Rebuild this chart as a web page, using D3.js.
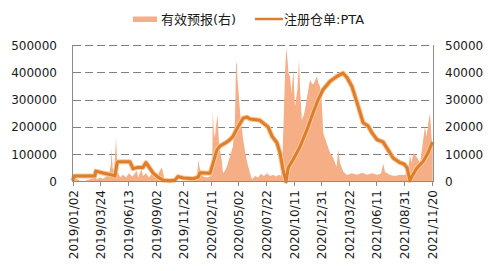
<!DOCTYPE html>
<meta charset="utf-8">
<script src="https://d3js.org/d3.v7.min.js"></script>
<style>
  body { margin: 0; background: #fff; }
  text { font-family: "DejaVu Sans", "Noto Sans CJK SC", sans-serif; fill: #1a1a1a; }
</style>
<div id="chart"></div>
<script>

// tick labels
var xTicks = ["2019/01/02","2019/03/24","2019/06/13","2019/09/02","2019/11/22","2020/02/11",
  "2020/05/02","2020/07/22","2020/10/11","2020/12/31","2021/03/22","2021/06/11","2021/08/31","2021/11/20"];
var leftTicks = [0, 100000, 200000, 300000, 400000, 500000];
var rightTicks = [0, 10000, 20000, 30000, 40000, 50000];

// 注册仓单:PTA (left axis)
var pta = [
  ["2019-01-02",3000],["2019-01-07",20000],["2019-03-08",20000],["2019-03-11",38000],["2019-04-01",31000],
  ["2019-04-27",24000],["2019-05-06",20000],["2019-05-12",68000],["2019-05-15",72000],["2019-06-19",72000],
  ["2019-06-28",47000],["2019-07-10",51000],["2019-07-27",51000],["2019-08-05",69000],["2019-08-26",31000],
  ["2019-09-09",16000],["2019-09-24",5000],["2019-10-14",3000],["2019-10-29",5000],["2019-11-07",18000],
  ["2019-11-22",13000],["2019-12-21",10000],["2020-01-05",16000],["2020-01-10",32000],["2020-02-09",30000],
  ["2020-02-18",68000],["2020-02-29",116000],["2020-03-09",130000],["2020-03-27",143000],["2020-04-07",153000],
  ["2020-04-16",165000],["2020-05-01",201000],["2020-05-16",232000],["2020-05-27",236000],["2020-06-05",229000],
  ["2020-07-04",224000],["2020-07-13",215000],["2020-07-28",200000],["2020-08-09",165000],["2020-08-23",142000],
  ["2020-09-01",105000],["2020-09-10",42000],["2020-09-19",0],["2020-09-25",50000],["2020-10-09",79000],
  ["2020-10-30",128000],["2020-11-19",189000],["2020-12-07",252000],["2020-12-22",300000],["2021-01-05",336000],
  ["2021-01-26",367000],["2021-02-15",385000],["2021-03-05",397000],["2021-03-17",380000],["2021-03-31",348000],
  ["2021-04-15",289000],["2021-04-24",252000],["2021-05-03",215000],["2021-05-17",204000],["2021-05-29",178000],
  ["2021-06-13",153000],["2021-06-30",145000],["2021-07-15",116000],["2021-07-30",86000],["2021-08-19",69000],
  ["2021-08-31",64000],["2021-09-09",50000],["2021-09-17",4000],["2021-09-23",18000],["2021-10-08",50000],
  ["2021-10-26",73000],["2021-11-09",104000],["2021-11-22",145000]
];

// 有效预报 (right axis)
var forecast = [
  ["2019-01-03",1200],["2019-01-09",1500],["2019-01-15",800],["2019-01-23",300],["2019-02-07",200],
  ["2019-02-22",800],["2019-03-03",1200],["2019-03-08",1800],["2019-03-14",800],["2019-03-23",1500],
  ["2019-04-01",1000],["2019-04-10",1800],["2019-04-18",2500],["2019-04-24",6000],["2019-04-26",11800],
  ["2019-04-29",5000],["2019-05-03",3000],["2019-05-06",9000],["2019-05-09",15900],["2019-05-12",8000],
  ["2019-05-15",3500],["2019-05-21",1500],["2019-05-30",2500],["2019-06-07",1500],["2019-06-16",3000],
  ["2019-06-25",1800],["2019-07-01",2500],["2019-07-09",4000],["2019-07-13",1500],["2019-07-23",4500],
  ["2019-07-27",2000],["2019-08-05",3000],["2019-08-14",1500],["2019-08-23",3000],["2019-08-31",1500],
  ["2019-09-09",2500],["2019-09-17",4500],["2019-09-21",5000],["2019-09-27",1500],["2019-10-06",300],
  ["2019-10-20",0],["2019-11-13",0],["2019-12-12",200],["2019-12-27",500],["2020-01-02",3000],
  ["2020-01-06",8000],["2020-01-09",5000],["2020-01-12",4000],["2020-01-19",1800],["2020-01-31",1500],
  ["2020-02-09",1800],["2020-02-15",3000],["2020-02-17",26000],["2020-02-20",18000],["2020-02-23",16000],
  ["2020-02-26",20000],["2020-03-02",24400],["2020-03-06",14000],["2020-03-09",11500],["2020-03-14",7900],
  ["2020-03-18",3000],["2020-03-24",4000],["2020-03-29",5400],["2020-04-07",9100],["2020-04-16",12800],
  ["2020-04-22",22600],["2020-04-25",42800],["2020-04-27",44000],["2020-04-29",38000],["2020-05-02",33600],
  ["2020-05-07",25200],["2020-05-16",15300],["2020-05-26",7900],["2020-06-05",3100],["2020-06-11",800],
  ["2020-06-20",2000],["2020-06-29",1500],["2020-07-07",2800],["2020-07-16",2000],["2020-07-25",3000],
  ["2020-08-03",2000],["2020-08-12",2500],["2020-08-20",1800],["2020-08-29",2500],["2020-09-04",2000],
  ["2020-09-09",11600],["2020-09-13",27500],["2020-09-16",40000],["2020-09-19",49000],["2020-09-23",44700],
  ["2020-09-26",39800],["2020-09-30",38500],["2020-10-05",32400],["2020-10-10",41000],["2020-10-15",27500],
  ["2020-10-22",33600],["2020-10-27",44700],["2020-10-30",33600],["2020-11-04",22600],["2020-11-09",24000],
  ["2020-11-13",26000],["2020-11-23",33600],["2020-11-28",37300],["2020-12-03",36000],["2020-12-08",35500],
  ["2020-12-13",37000],["2020-12-18",38500],["2020-12-23",36000],["2020-12-27",34900],["2021-01-01",30000],
  ["2021-01-06",17700],["2021-01-16",14000],["2021-01-26",10400],["2021-02-03",9000],["2021-02-14",5400],
  ["2021-02-19",11600],["2021-02-24",6700],["2021-03-06",3600],["2021-03-17",2400],["2021-03-31",3000],
  ["2021-04-15",2500],["2021-04-30",3200],["2021-05-14",2500],["2021-05-29",3000],["2021-06-13",2500],
  ["2021-06-24",2800],["2021-07-01",6500],["2021-07-06",3500],["2021-07-21",2400],["2021-08-04",2000],
  ["2021-08-19",2500],["2021-09-03",2400],["2021-09-12",4200],["2021-09-17",9700],["2021-09-22",6700],
  ["2021-09-27",10400],["2021-10-07",9000],["2021-10-17",6700],["2021-10-26",15300],["2021-10-31",20100],
  ["2021-11-05",16500],["2021-11-10",21400],["2021-11-15",25000],["2021-11-20",15300],["2021-11-23",14000]
];

var width = 498, height = 271;
var margin = {left: 72.7, right: 431.7, top: 45, bottom: 181.5};
var parse = d3.timeParse("%Y-%m-%d");
var parseTick = d3.timeParse("%Y/%m/%d");

var svg = d3.select("#chart").append("svg")
  .attr("width", width)
  .attr("height", height);

var x = d3.scaleTime()
  .domain([parseTick(xTicks[0]), parseTick(xTicks[xTicks.length - 1])])
  .range([margin.left, margin.right]);
var yL = d3.scaleLinear().domain([0, 500000]).range([margin.bottom, margin.top]);
var yR = d3.scaleLinear().domain([0, 50000]).range([margin.bottom, margin.top]);
var axisRight = 433;

// grid lines
svg.append("g")
  .selectAll("line")
  .data(leftTicks.slice(1))
  .enter()
  .append("line")
    .attr("x1", 73).attr("x2", axisRight)
    .attr("y1", function(d){ return Math.round(yL(d)) + 0.5 })
    .attr("y2", function(d){ return Math.round(yL(d)) + 0.5 })
    .attr("stroke", "#808080")
    .attr("stroke-width", 1)
    .style("stroke-dasharray", "8,4");

// area: 有效预报
var area = d3.area()
  .x(function(d){ return x(parse(d[0])) })
  .y0(yR(0))
  .y1(function(d){ return yR(d[1]) });
svg.append("path")
  .datum(forecast)
  .attr("d", area)
  .attr("fill", "#F5AE86");

// line: 注册仓单 with soft halo
var line = d3.line()
  .x(function(d){ return x(parse(d[0])) })
  .y(function(d){ return yL(d[1]) });
svg.append("path")
  .datum(pta)
  .attr("d", line)
  .attr("fill", "none")
  .attr("stroke", "#F7C896")
  .attr("stroke-width", 5)
  .attr("stroke-linejoin", "round");
svg.append("path")
  .datum(pta)
  .attr("d", line)
  .attr("fill", "none")
  .attr("stroke", "#DE7D2C")
  .attr("stroke-width", 3)
  .attr("stroke-linejoin", "round");

// axes lines
var axisCol = "#8c8c8c";
svg.append("line").attr("x1", 72.5).attr("x2", 72.5).attr("y1", margin.top).attr("y2", 182)
  .attr("stroke", axisCol);
svg.append("line").attr("x1", axisRight + 0.5).attr("x2", axisRight + 0.5).attr("y1", margin.top).attr("y2", 182)
  .attr("stroke", axisCol);
svg.append("line").attr("x1", 72).attr("x2", axisRight + 1).attr("y1", 181.5).attr("y2", 181.5)
  .attr("stroke", axisCol);

// x ticks + labels
var xt = svg.append("g").selectAll("g")
  .data(xTicks)
  .enter()
  .append("g")
    .attr("transform", function(d){ return "translate(" + (Math.round(x(parseTick(d))) + 0.5) + ",0)" });
xt.append("line")
  .attr("y1", 181.5).attr("y2", 186)
  .attr("stroke", axisCol);
xt.append("text")
  .attr("transform", "translate(4.5,190) rotate(-90)")
  .attr("text-anchor", "end")
  .style("font-size", "12px")
  .text(function(d){ return d });

// left labels
svg.append("g").selectAll("text")
  .data(leftTicks)
  .enter()
  .append("text")
    .attr("x", 57)
    .attr("y", function(d){ return yL(d) + 4.5 })
    .attr("text-anchor", "end")
    .style("font-size", "12px")
    .text(function(d){ return d });

// right labels
svg.append("g").selectAll("text")
  .data(rightTicks)
  .enter()
  .append("text")
    .attr("x", 445)
    .attr("y", function(d){ return yR(d) + 4.5 })
    .style("font-size", "12px")
    .text(function(d){ return d });

// legend
svg.append("rect")
  .attr("x", 133).attr("y", 16.5).attr("width", 24).attr("height", 5.5)
  .attr("fill", "#F5AE86");
svg.append("text")
  .attr("x", 161).attr("y", 23.5)
  .style("font-size", "13px")
  .text("有效预报(右)");
svg.append("line")
  .attr("x1", 255).attr("x2", 283).attr("y1", 19).attr("y2", 19)
  .attr("stroke", "#DE7D2C").attr("stroke-width", 2.5);
svg.append("text")
  .attr("x", 284).attr("y", 23.5)
  .style("font-size", "13px")
  .text("注册仓单:PTA");

</script>
